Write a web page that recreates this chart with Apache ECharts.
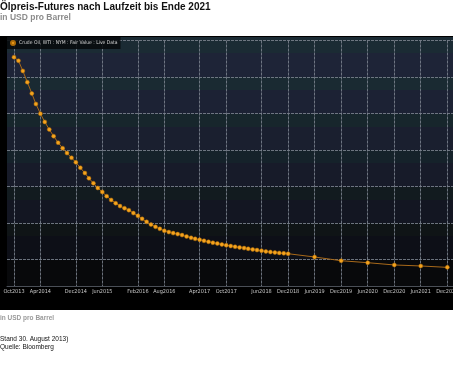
<!DOCTYPE html>
<html>
<head>
<meta charset="utf-8">
<script src="https://cdn.jsdelivr.net/npm/echarts@6/dist/echarts.min.js"></script>
<style>
html,body{margin:0;padding:0;background:#fff;}
#c{width:453px;height:367px;}
</style>
</head>
<body>
<div id="c"></div>
<script>
// ---- data ----
const seriesName = "Crude Oil, WTI : NYM : Fair Value : Live Data";
const contractMonths = [
  "2013-10-01","2013-11-01","2013-12-01",
  "2014-01-01","2014-02-01","2014-03-01","2014-04-01","2014-05-01","2014-06-01","2014-07-01","2014-08-01","2014-09-01","2014-10-01","2014-11-01","2014-12-01",
  "2015-01-01","2015-02-01","2015-03-01","2015-04-01","2015-05-01","2015-06-01","2015-07-01","2015-08-01","2015-09-01","2015-10-01","2015-11-01","2015-12-01",
  "2016-01-01","2016-02-01","2016-03-01","2016-04-01","2016-05-01","2016-06-01","2016-07-01","2016-08-01","2016-09-01","2016-10-01","2016-11-01","2016-12-01",
  "2017-01-01","2017-02-01","2017-03-01","2017-04-01","2017-05-01","2017-06-01","2017-07-01","2017-08-01","2017-09-01","2017-10-01","2017-11-01","2017-12-01",
  "2018-01-01","2018-02-01","2018-03-01","2018-04-01","2018-05-01","2018-06-01","2018-07-01","2018-08-01","2018-09-01","2018-10-01","2018-11-01","2018-12-01",
  "2019-06-01","2019-12-01","2020-06-01","2020-12-01","2021-06-01","2021-12-01"
];
const prices = [
  107.72,107.23,105.84,
  104.30,102.75,101.31,99.98,98.86,97.82,96.91,96.02,95.27,94.59,93.95,93.32,
  92.59,91.86,91.14,90.46,89.82,89.27,88.70,88.18,87.73,87.34,87.05,86.78,
  86.38,86.00,85.59,85.18,84.81,84.50,84.23,83.95,83.78,83.64,83.50,83.37,
  83.18,83.00,82.86,82.73,82.59,82.45,82.32,82.22,82.08,81.98,81.87,81.77,
  81.68,81.59,81.50,81.40,81.32,81.23,81.13,81.05,80.98,80.93,80.87,80.82,
  80.37,79.86,79.59,79.28,79.14,78.95
];
const tickDates = ["2013-10-01","2014-04-01","2014-12-01","2015-06-01","2016-02-01","2016-08-01","2017-04-01","2017-10-01","2018-06-01","2018-12-01","2019-06-01","2019-12-01","2020-06-01","2020-12-01","2021-06-01","2021-12-01"];
const tickLabels = ["Oct2013","Apr2014","Dec2014","Jun2015","Feb2016","Aug2016","Apr2017","Oct2017","Jun2018","Dec2018","Jun2019","Dec2019","Jun2020","Dec2020","Jun2021","Dec2021"];
const yGridValues = [80,85,90,95,100,105,110];
const titleText = "Ölpreis-Futures nach Laufzeit bis Ende 2021";
const subtitleText = "in USD pro Barrel";
const footerUnit = "in USD pro Barrel";
const footerDate = "Stand 30. August 2013)";
const footerSource = "Quelle: Bloomberg";

// ---- helpers ----
function ts(s){const p=s.split('-').map(Number);return Date.UTC(p[0],p[1]-1,p[2]);}
const tickTs = tickDates.map(ts);
const seriesData = contractMonths.map((d,i)=>[ts(d),prices[i]]);

// background bands (style)
const bandStarts = [37,53,77,90,113.5,127,150,163,186.5,200,223,236,259.5];
const bandColors = ['#1b2b34','#1e2437','#1a2a32','#1c2234','#17262c','#1a1f2f','#15222a','#171b29','#121b1f','#131622','#0f1416','#0d0f17','#08090b'];
const bandEnd = 286, bandTop = 37, bandH = bandEnd - bandTop;
const stops = [];
bandStarts.forEach((s,i)=>{
  const e = i < bandStarts.length-1 ? bandStarts[i+1] : bandEnd;
  stops.push({offset:(s-bandTop)/bandH, color:bandColors[i]});
  stops.push({offset:(e-bandTop)/bandH, color:bandColors[i]});
});

const narrow = '"Liberation Sans Narrow","DejaVu Sans Condensed","Liberation Sans",sans-serif';

const chart = echarts.init(document.getElementById('c'), null, {renderer:'canvas'});
chart.setOption({
  animation:false,
  backgroundColor:'#ffffff',
  graphic:[
    {type:'rect', z:-100, silent:true, shape:{x:0,y:36,width:453,height:274}, style:{fill:'#000000'}},
    {type:'rect', z:-99, silent:true, shape:{x:7,y:bandTop,width:446,height:bandH},
      style:{fill:new echarts.graphic.LinearGradient(0,0,0,1,stops)}},
    {type:'text', z:100, left:0, top:2, style:{text:titleText, font:'bold 10px "Liberation Sans", Arial, sans-serif', fill:'#111111'}},
    {type:'text', z:100, left:0, top:13.5, style:{text:subtitleText, font:'bold 8.5px "Liberation Sans", Arial, sans-serif', fill:'#8c8c8c'}},
    {type:'text', z:100, left:0, top:315, style:{text:footerUnit, font:'bold 6.5px "Liberation Sans", Arial, sans-serif', fill:'#9a9a9a'}},
    {type:'text', z:100, left:0, top:336, style:{text:footerDate, font:'6.5px "Liberation Sans", Arial, sans-serif', fill:'#111111'}},
    {type:'text', z:100, left:0, top:344, style:{text:footerSource, font:'6.5px "Liberation Sans", Arial, sans-serif', fill:'#111111'}}
  ],
  legend:{
    show:true, left:7, top:37, orient:'horizontal',
    backgroundColor:'rgba(6,9,12,0.85)', padding:[3,3,3,3],
    itemWidth:4, itemHeight:4, itemGap:4, icon:'circle',
    textStyle:{color:'#d6d6d6', fontSize:5, fontFamily:narrow, padding:[0,0,0,-1]},
    data:[seriesName]
  },
  grid:{left:7, right:0, top:40.5, bottom:367-286, containLabel:false, outerBoundsMode:'none'},
  xAxis:{
    type:'value',
    min:Date.UTC(2013,7,14), max:Date.UTC(2022,0,9),
    axisLine:{show:true, lineStyle:{color:'#4a4f57', width:1}},
    axisTick:{show:false, customValues:tickTs},
    axisLabel:{show:true, customValues:tickTs, margin:3, color:'#c8c8c8', fontSize:5.5, fontFamily:narrow,
      hideOverlap:false, showMinLabel:true, showMaxLabel:true,
      formatter:function(v){const i=tickTs.indexOf(v);return i>=0?tickLabels[i]:'';}},
    splitLine:{show:true, lineStyle:{color:'#7c848f', width:1, type:[3,1], opacity:0.85}}
  },
  yAxis:{
    type:'value', min:76.4, max:110,
    axisLine:{show:false},
    axisTick:{show:false, customValues:yGridValues},
    axisLabel:{show:false, customValues:yGridValues},
    splitLine:{show:true, lineStyle:{color:'#7c848f', width:1, type:[3,1], opacity:0.85}}
  },
  series:[{
    name:seriesName,
    type:'line',
    data:seriesData,
    symbol:'circle',
    symbolSize:4,
    showAllSymbol:true,
    itemStyle:{color:'#f4a31e', borderColor:'#b06d08', borderWidth:0.5},
    lineStyle:{color:'#a8691a', width:1}
  }]
});
</script>
</body>
</html>
